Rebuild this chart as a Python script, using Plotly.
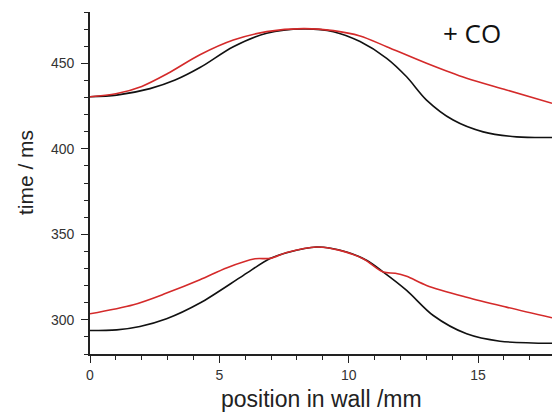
import plotly.graph_objects as go

# upper pair (black = control, red = + CO)
x_up_black = [0, 1.03, 2.32, 3.29, 4.25, 5.54, 6.83, 8.25, 9.41, 10.44, 11.47, 12.24, 13.01, 14.04, 15.2, 16.49, 17.86]
y_up_black = [430.4, 431.4, 435.2, 440.2, 447.5, 459.7, 467.6, 470.1, 468.5, 462.7, 452.9, 442.1, 428.5, 416.8, 409.9, 407.0, 406.6]

x_up_red = [0, 1.0, 2.0, 3.0, 4.25, 5.54, 6.83, 8.25, 9.41, 10.44, 11.47, 13.01, 14.56, 16.1, 17.86]
y_up_red = [430.4, 432.2, 436.5, 444.0, 455.0, 463.6, 468.5, 470.3, 469.1, 466.0, 459.7, 450.0, 441.2, 434.4, 426.6]

# lower pair
x_lo_black = [0, 1.03, 1.93, 2.96, 4.25, 5.93, 6.96, 7.6, 8.76, 9.92, 10.69, 11.34, 12.24, 13.27, 14.56, 15.85, 17.86]
y_lo_black = [293.7, 294.1, 296.1, 300.6, 309.8, 326.0, 335.8, 339.2, 342.6, 339.7, 334.8, 327.9, 317.2, 302.5, 291.8, 287.5, 286.3]

x_lo_red = [0, 1.68, 2.96, 4.25, 5.3, 6.38, 6.96, 7.6, 8.76, 9.66, 10.56, 11.34, 11.8, 12.24, 13.01, 14.56, 16.1, 17.86]
y_lo_red = [303.5, 308.8, 315.6, 323.4, 330.5, 335.7, 335.9, 339.4, 342.6, 340.6, 335.7, 327.9, 327.2, 325.4, 320.1, 313.2, 307.4, 301.2]

x_ticks = [0, 5, 10, 15]
y_ticks = [300, 350, 400, 450]

fig = go.Figure()
for xs, ys, col in [(x_up_black, y_up_black, "#111111"), (x_up_red, y_up_red, "#d42a2a"),
                    (x_lo_black, y_lo_black, "#111111"), (x_lo_red, y_lo_red, "#d42a2a")]:
    fig.add_trace(go.Scatter(x=xs, y=ys, mode="lines", line=dict(color=col, width=1.6, shape="spline", smoothing=0.9),
                             showlegend=False, hoverinfo="skip"))

axis_common = dict(showgrid=False, zeroline=False, showline=True, linecolor="#222", linewidth=1.6,
                   ticks="outside", ticklen=7, tickwidth=1.4, tickcolor="#222", automargin=False,
                   tickfont=dict(family="Liberation Sans, Arial", size=14, color="#333"),
                   minor=dict(ticks="outside", ticklen=4, tickwidth=1.2, tickcolor="#222", showgrid=False))

fig.update_xaxes(range=[0, 17.86], tickvals=x_ticks, minor_dtick=1, minor_tick0=0, **axis_common)
fig.update_yaxes(range=[280, 480], tickvals=y_ticks, minor_dtick=10, minor_tick0=280, ticklabelstandoff=4, **axis_common)

fig.add_annotation(x=0.5, y=-0.1316, xref="paper", yref="paper", text="position in wall /mm", showarrow=False,
                   font=dict(family="Liberation Sans, Arial", size=23, color="#222"), xanchor="center", yanchor="middle")
fig.add_annotation(x=-0.1407, y=0.532, xref="paper", yref="paper", text="time / ms", showarrow=False, textangle=-90,
                   font=dict(family="Liberation Sans, Arial", size=21, color="#222"), xanchor="center", yanchor="middle")
fig.add_annotation(x=0.826, y=0.939, xref="paper", yref="paper", text="+ CO", showarrow=False,
                   font=dict(family="Open Sans, Liberation Sans", size=26, color="#111"), xanchor="center", yanchor="middle")

fig.update_layout(width=552, height=413, margin=dict(l=90, r=0, t=12, b=59),
                  plot_bgcolor="white", paper_bgcolor="white")
fig.write_html("out.html", config={"displayModeBar": False},
               post_script="document.body.style.margin='0';document.body.style.overflow='hidden';")
